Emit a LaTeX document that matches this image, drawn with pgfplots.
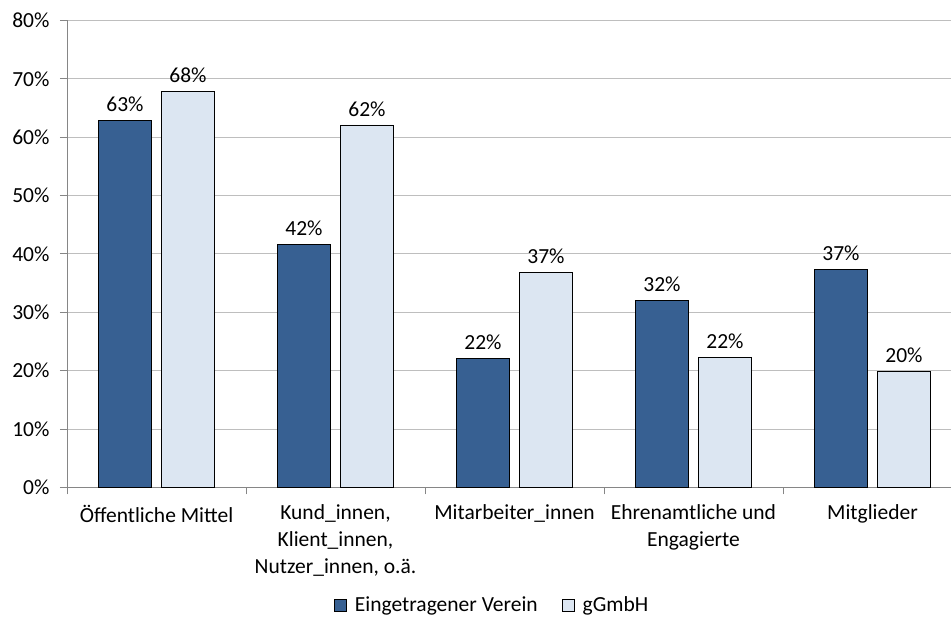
\documentclass[border=0pt]{standalone}
\usepackage{fontspec}
\setmainfont{Carlito}
\usepackage{pgfplots}
\pgfplotsset{compat=1.18}
\definecolor{darkbar}{RGB}{55,96,146}
\definecolor{lightbar}{RGB}{220,230,242}
\definecolor{gridc}{RGB}{190,190,190}
\definecolor{axc}{RGB}{134,134,134}
\begin{document}
\begin{tikzpicture}[x=1pt,y=1pt,font=\fontsize{21.5}{26.7}\selectfont]
\useasboundingbox (0,0) rectangle (951,617);
\begin{axis}[
  at={(67pt,129.5pt)}, anchor=south west,
  scale only axis, width=895pt, height=467pt,
  xmin=-0.5, xmax=4.5, ymin=0, ymax=80,
  ybar, bar width=53pt,
  axis x line*=bottom, axis y line*=left,
  /pgf/number format/assume math mode=true,
  ytick={0,10,...,80},
  yticklabel={\pgfmathprintnumber{\tick}\%},
  yticklabel style={xshift=-7pt},
  xtick={-0.5,0.5,1.5,2.5,3.5,4.5},
  xticklabels={,,,,,},
  extra x ticks={0,1,2,3,4},
  extra x tick labels={Öffentliche Mittel,{Kund\_innen,\\Klient\_innen,\\Nutzer\_innen, o.ä.},Mitarbeiter\_innen,{Ehrenamtliche und\\Engagierte},Mitglieder},
  extra x tick style={major tick length=0pt, xticklabel style={align=center, anchor=north, yshift=-14pt}},
  tick align=outside, major tick length=7pt,
  ymajorgrids, grid style={gridc, line width=1pt},
  axis line style={axc, line width=1pt},
  tick style={axc, line width=1pt},
  nodes near coords={\pgfmathprintnumber[fixed,precision=0]{\pgfplotspointmeta}\%},
  nodes near coords style={black, yshift=5pt},
  legend columns=2,
  legend style={draw=none, fill=none, at={(0.475,-0.2516)}, anchor=center,
    /tikz/every even column/.append style={column sep=22pt},
    /tikz/every odd column/.append style={column sep=6pt}},
  legend image code/.code={\draw[#1] (0pt,-6pt) rectangle (12pt,6pt);},
]
\addplot[fill=darkbar, draw=black, line width=0.9pt, bar shift=-31.5pt]
  coordinates {(0,62.9) (1,41.7) (2,22.1) (3,32.1) (4,37.4)};
\addplot[fill=lightbar, draw=black, line width=0.9pt, bar shift=31.5pt]
  coordinates {(0,67.9) (1,62.1) (2,36.8) (3,22.2) (4,19.9)};
\legend{Eingetragener Verein, gGmbH}
\end{axis}
\end{tikzpicture}
\end{document}
